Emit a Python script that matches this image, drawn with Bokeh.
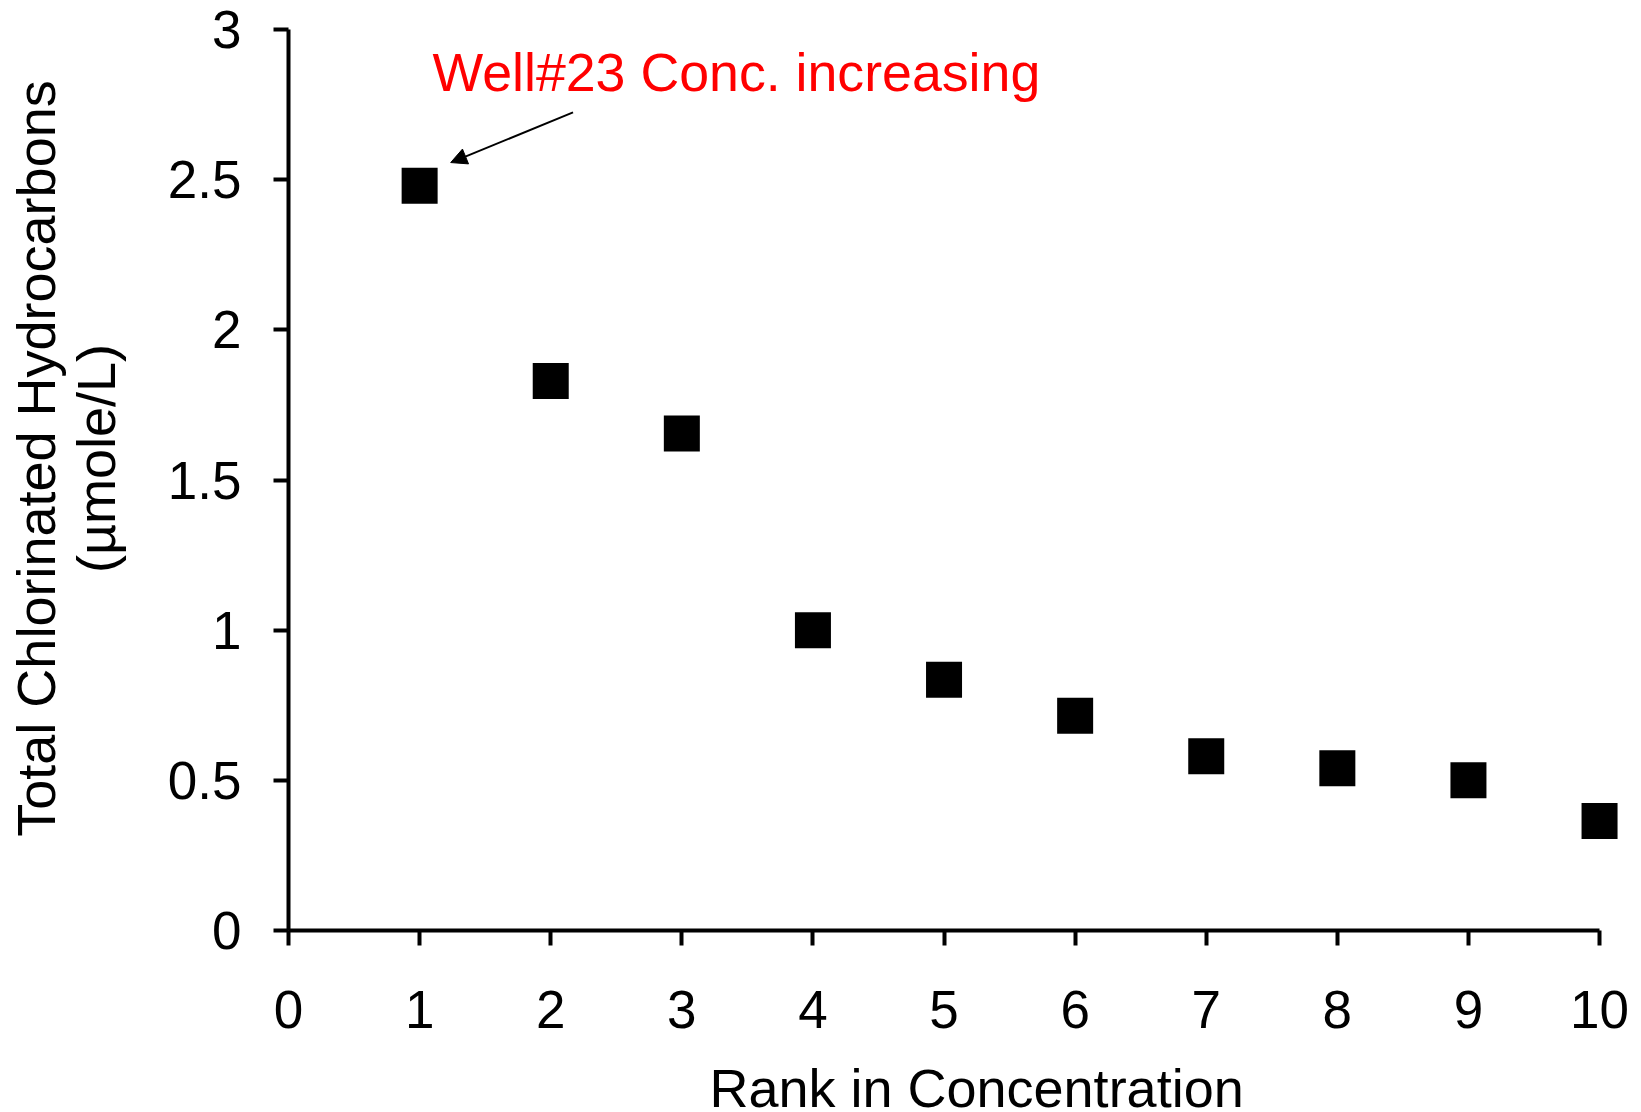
import math
from bokeh.plotting import figure
from bokeh.models import (Range1d, FixedTicker, CustomJSTickFormatter, Label, Arrow,
                          NormalHead, ColumnDataSource)
from bokeh.embed import file_html
from bokeh.resources import INLINE

# ---- data ----
rank = [1, 2, 3, 4, 5, 6, 7, 8, 9, 10]
total_chc = [2.48, 1.83, 1.655, 1.0, 0.835, 0.715, 0.58, 0.54, 0.50, 0.365]
x_ticks = [0, 1, 2, 3, 4, 5, 6, 7, 8, 9, 10]
y_ticks = [0, 0.5, 1, 1.5, 2, 2.5, 3]
x_title = "Rank in Concentration"
y_title_1 = "Total Chlorinated Hydrocarbons"
y_title_2 = "(µmole/L)"
note = "Well#23 Conc. increasing"

FONT = "Liberation Sans"
FS = "53px"
TS = "54px"

# The frame covers the whole canvas; axes sit at x=0 / y=0 and are bounded to the data span.
p = figure(width=1641, height=1112, output_backend="svg", toolbar_location=None,
           x_range=Range1d(-2.197, 10.32), y_range=Range1d(-0.606, 3.0966),
           min_border_left=0, min_border_right=0, min_border_top=0,
           min_border_bottom=0)
p.outline_line_color = None
p.grid.visible = False
p.background_fill_color = "white"
p.border_fill_color = "white"

src = ColumnDataSource(dict(x=rank, y=total_chc))
p.scatter("x", "y", source=src, marker="square", size=36,
          fill_color="black", line_color="black", line_width=0)

fmt = CustomJSTickFormatter(code="return String(Math.round(tick*10)/10);")
for ax, ticks in ((p.xaxis[0], x_ticks), (p.yaxis[0], y_ticks)):
    ax.fixed_location = 0
    ax.ticker = FixedTicker(ticks=ticks)
    ax.bounds = (min(ticks), max(ticks))
    ax.formatter = fmt
    ax.axis_line_width = 4
    ax.axis_line_color = "black"
    ax.major_tick_line_width = 4
    ax.major_tick_line_color = "black"
    ax.major_tick_in = 0
    ax.major_tick_out = 15
    ax.minor_tick_line_color = None
    ax.major_label_text_font = FONT
    ax.major_label_text_font_size = FS
    ax.major_label_text_color = "black"
    ax.axis_label = None

p.yaxis[0].major_label_standoff = 32
p.xaxis[0].major_label_standoff = 45

# axis titles
p.add_layout(Label(x=5.248, y=-0.526, text=x_title, text_font=FONT, text_font_size=TS,
                   text_align="center", text_baseline="alphabetic", text_color="black"))
p.add_layout(Label(x=-1.930, y=1.5716, text=y_title_1, text_font=FONT, text_font_size=TS,
                   text_align="center", text_baseline="alphabetic", angle=math.pi / 2,
                   text_color="black"))
p.add_layout(Label(x=-1.465, y=1.5716, text=y_title_2, text_font=FONT, text_font_size=TS,
                   text_align="center", text_baseline="alphabetic", angle=math.pi / 2,
                   text_color="black"))

# annotation
p.add_layout(Label(x=1.098, y=2.86, text=note, text_font=FONT, text_font_size="53.7px",
                   text_align="left", text_baseline="middle", text_color="#FF0000"))
p.add_layout(Arrow(end=NormalHead(size=16, fill_color="black", line_color="black"),
                   x_start=2.17, y_start=2.724, x_end=1.237, y_end=2.557,
                   line_width=2, line_color="black"))

open("out.html", "w").write(file_html(p, INLINE))
